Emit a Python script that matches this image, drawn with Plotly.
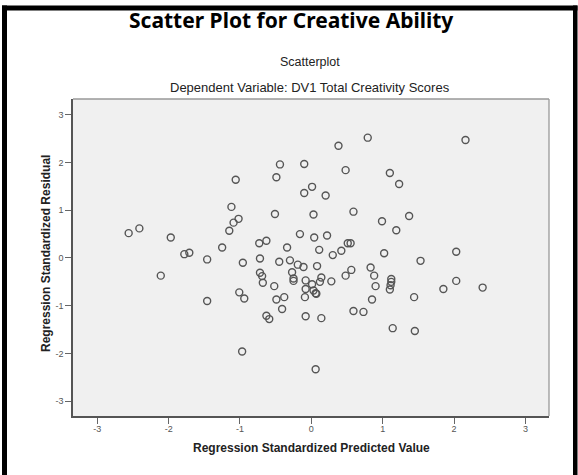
import plotly.graph_objects as go

# Data
pred = [-2.56, -2.41, -2.11, -1.97, -1.78, -1.71, -1.46, -1.46, -1.25, -1.15,
        -1.12, -1.09, -1.02, -1.06, -1.01, -0.94, -0.97, -0.96, -0.73, -0.63,
        -0.72, -0.72, -0.69, -0.68, -0.52, -0.63, -0.59, -0.51, -0.49, -0.44,
        -0.45, -0.49, -0.38, -0.41, -0.34, -0.30, -0.27, -0.25, -0.25, -0.16,
        -0.19, -0.11, -0.10, -0.10, -0.08, -0.08, -0.09, -0.08, 0.01, 0.03,
        0.04, 0.01, 0.03, 0.06, 0.07, 0.06, 0.08, 0.11, 0.14, 0.12,
        0.14, 0.20, 0.22, 0.28, 0.30, 0.38, 0.42, 0.48, 0.48, 0.51,
        0.55, 0.56, 0.59, 0.59, 0.73, 0.79, 0.83, 0.88, 0.90, 0.85,
        0.99, 1.02, 1.10, 1.12, 1.12, 1.11, 1.10, 1.14, 1.19, 1.23,
        1.37, 1.44, 1.45, 1.53, 1.85, 2.03, 2.03, 2.16, 2.40]
resid = [0.52, 0.62, -0.37, 0.43, 0.08, 0.11, -0.03, -0.90, 0.22, 0.57,
         1.07, 0.74, 0.82, 1.64, -0.72, -0.85, -1.96, -0.10, 0.31, 0.36,
         -0.01, -0.31, -0.38, -0.52, -0.59, -1.21, -1.28, 0.92, 1.69, 1.96,
         -0.08, -0.87, -0.82, -1.07, 0.22, -0.05, -0.30, -0.43, -0.48, 0.50,
         -0.14, -0.19, 1.97, 1.36, -0.47, -0.65, -0.82, -1.22, 1.49, 0.91,
         0.43, -0.55, -0.68, -0.74, -0.75, -2.33, -0.17, 0.17, -0.41, -0.50,
         -1.26, 1.31, 0.47, -0.49, 0.06, 2.35, 0.15, 1.84, -0.37, 0.31,
         0.31, -0.25, 0.97, -1.11, -1.13, 2.52, -0.20, -0.37, -0.59, -0.87,
         0.77, 0.10, 1.78, -0.44, -0.50, -0.57, -0.66, -1.47, 0.58, 1.55,
         0.88, -0.82, -1.53, -0.06, -0.65, 0.13, -0.48, 2.47, -0.62]

tick_vals = [-3, -2, -1, 0, 1, 2, 3]
tick_text = ["-3", "-2", "-1", "0", "1", "2", "3"]

title_text = "Scatter Plot for Creative Ability"
sub1 = "Scatterplot"
sub2 = "Dependent Variable: DV1 Total Creativity Scores"
x_title = "Regression Standardized Predicted Value"
y_title = "Regression Standardized Residual"

# Layout geometry (pixels)
W, H = 578, 475
L, R, T, B = 73, 29, 99, 59
PW, PH = W - L - R, H - T - B


def xp(px):
    return (px - L) / PW


def yp(py):
    return (H - B - py) / PH


fig = go.Figure()
fig.add_trace(go.Scatter(
    x=pred, y=resid, mode="markers",
    marker=dict(symbol="circle-open", size=7, color="#555555",
                line=dict(width=1.4, color="#555555")),
    hoverinfo="x+y", showlegend=False,
))

axis_common = dict(
    tickmode="array", tickvals=tick_vals, ticktext=tick_text,
    ticks="outside", ticklen=6, tickwidth=1.3, tickcolor="#666666",
    tickfont=dict(family="Liberation Sans, Arial", size=9, color="#555555"),
    showgrid=False, zeroline=False,
    showline=True, linecolor="#555555", linewidth=1.5,
)

fig.update_layout(
    width=W, height=H,
    margin=dict(l=L, r=R, t=T, b=B, pad=0),
    paper_bgcolor="white", plot_bgcolor="#f0f0f0",
    xaxis=dict(range=[-3.34, 3.33], ticklabelstandoff=-3, **axis_common),
    yaxis=dict(range=[-3.31, 3.33], **axis_common),
    font=dict(family="Liberation Sans, Arial", color="#222222"),
)

ann = [
    dict(text=f"<b>{title_text}</b>", x=xp(291), y=yp(20),
         font=dict(family="Noto Sans", size=21, color="black")),
    dict(text=sub1, x=xp(310), y=yp(62),
         font=dict(family="Liberation Sans, Arial", size=12.5, color="#222222")),
    dict(text=sub2, x=xp(310), y=yp(87),
         font=dict(family="Liberation Sans, Arial", size=13, color="#222222")),
    dict(text=f"<b>{x_title}</b>", x=xp(311), y=yp(448),
         font=dict(family="Liberation Sans, Arial", size=12, color="#222222")),
    dict(text=f"<b>{y_title}</b>", x=xp(46), y=yp(254), textangle=-90,
         font=dict(family="Liberation Sans, Arial", size=12, color="#222222")),
]
for a in ann:
    a.update(xref="paper", yref="paper", showarrow=False,
             xanchor="center", yanchor="middle")
    fig.add_annotation(**a)

shapes = [
    # plot frame top and right (lighter)
    dict(type="line", x0=0, x1=1, y0=1, y1=1, line=dict(color="#999999", width=1.3)),
    dict(type="line", x0=1, x1=1, y0=0, y1=1, line=dict(color="#999999", width=1.3)),
    # outer black frame
    dict(type="rect", x0=xp(2), x1=xp(577.5), y0=yp(10.5), y1=yp(5.5),
         fillcolor="black", line=dict(width=0)),
    dict(type="rect", x0=xp(2), x1=xp(7), y0=yp(H + 2), y1=yp(5.5),
         fillcolor="black", line=dict(width=0)),
    dict(type="rect", x0=xp(573), x1=xp(577.5), y0=yp(H + 2), y1=yp(5.5),
         fillcolor="black", line=dict(width=0)),
]
for s in shapes:
    s.update(xref="paper", yref="paper", layer="above")
    fig.add_shape(**s)

fig.write_html("out.html")
